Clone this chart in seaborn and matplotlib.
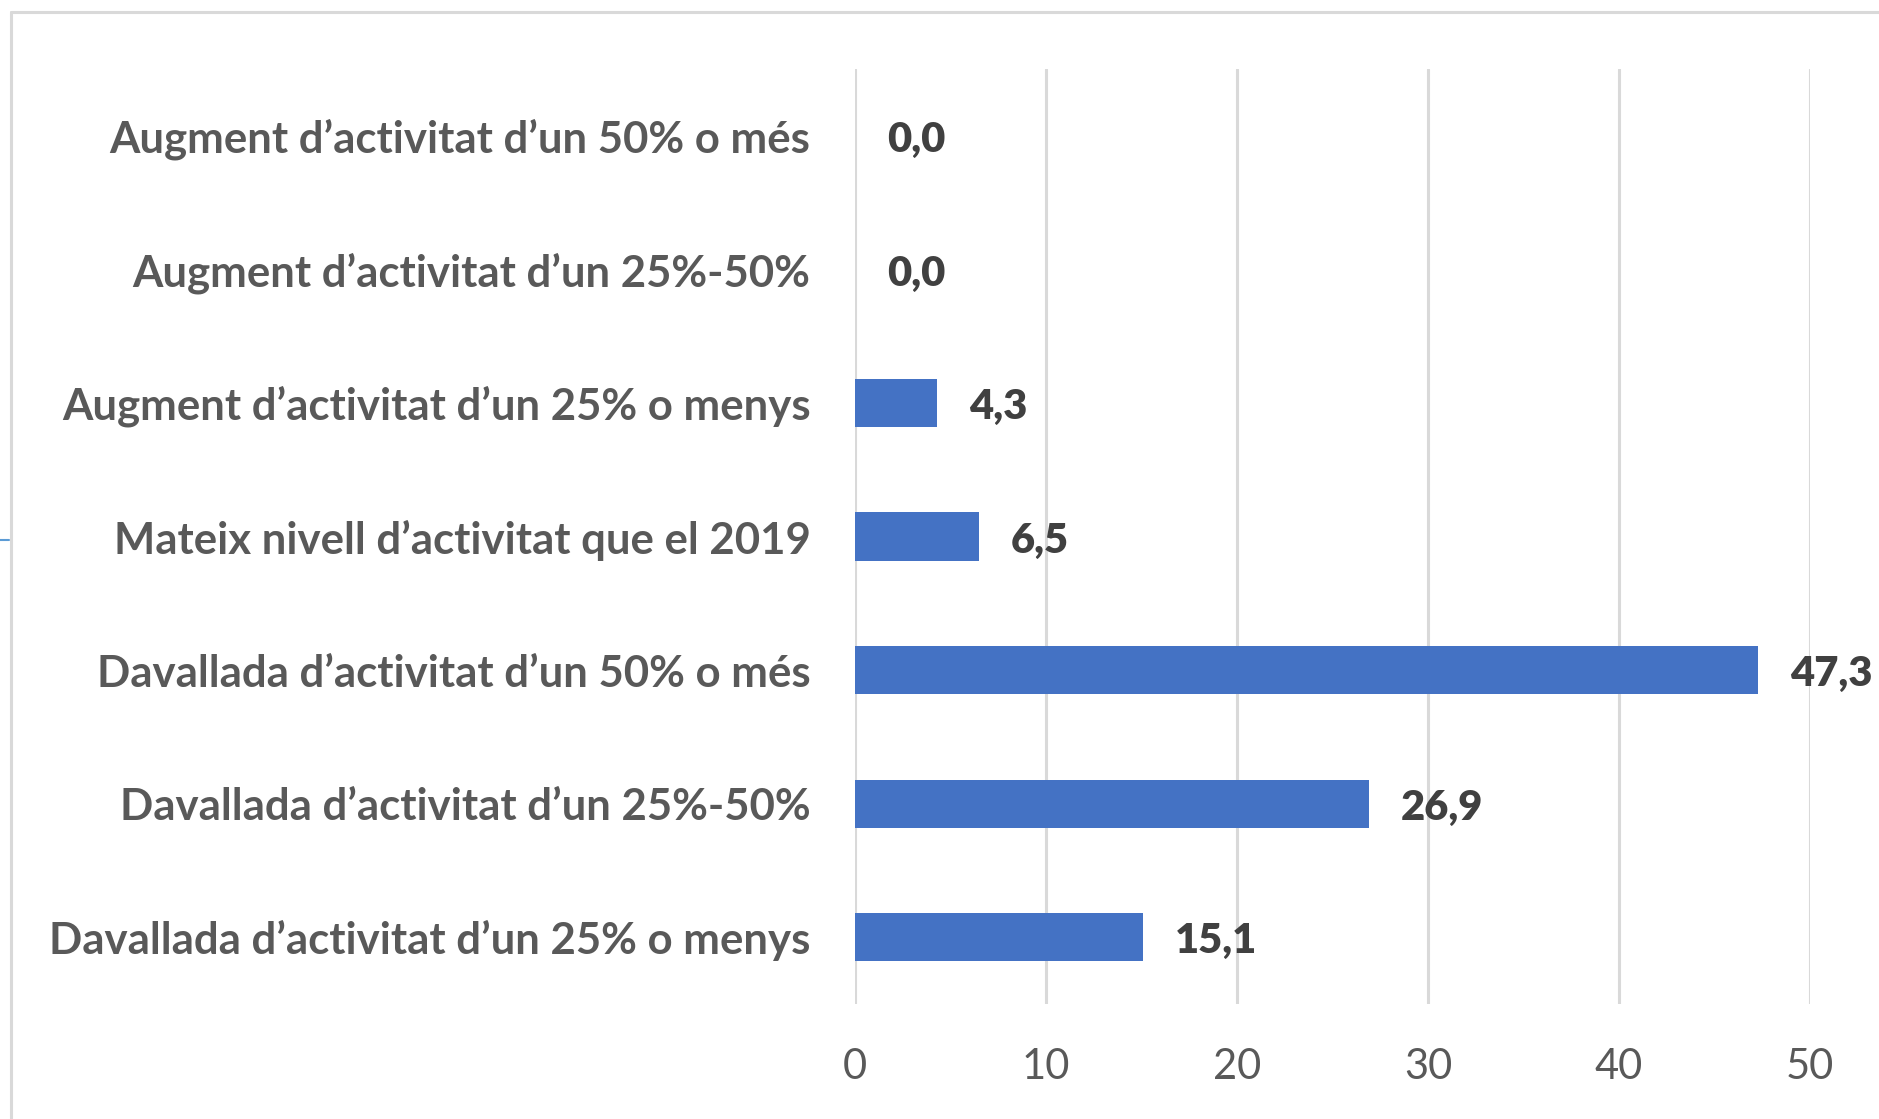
import matplotlib
matplotlib.use("Agg")
import matplotlib.pyplot as plt
import seaborn as sns
import pandas as pd
from matplotlib.lines import Line2D

# ==========================================
# DATA
# ==========================================

categories = [
    "Augment d\u2019activitat d\u2019un 50% o més",
    "Augment d\u2019activitat d\u2019un 25%-50%",
    "Augment d\u2019activitat d\u2019un 25% o menys",
    "Mateix nivell d\u2019activitat que el 2019",
    "Davallada d\u2019activitat d\u2019un 50% o més",
    "Davallada d\u2019activitat d\u2019un 25%-50%",
    "Davallada d\u2019activitat d\u2019un 25% o menys",
]
values = [0.0, 0.0, 4.3, 6.5, 47.3, 26.9, 15.1]
x_ticks = [0, 10, 20, 30, 40, 50]

df = pd.DataFrame({"categoria": categories, "valor": values})

# ==========================================
# STYLE
# ==========================================

sns.set_style("white")
plt.rcParams["font.family"] = ["Lato", "DejaVu Sans"]

bar_color = "#4472C4"
grid_color = "#D9D9D9"
label_color = "#595959"
value_color = "#404040"

W, H = 1879, 1119
fig = plt.figure(figsize=(W / 100, H / 100), dpi=100)
ax = fig.add_axes([855 / W, 1 - 1004 / H, (1810 - 855) / W, (1004 - 69) / H])

# ==========================================
# BAR CHART
# ==========================================

sns.barplot(
    data=df,
    y="categoria",
    x="valor",
    order=categories,
    color=bar_color,
    width=0.36,
    saturation=1,
    linewidth=0,
    ax=ax,
)

ax.set_xlim(0, 50)
ax.set_ylim(len(categories) - 0.5, -0.5)
ax.set_xticks(x_ticks)
ax.set_xticklabels([str(t) for t in x_ticks], fontsize=30, color=label_color)
ax.set_yticklabels(categories, fontsize=31.5, fontweight="bold", color=label_color)
ax.tick_params(axis="y", length=0, pad=32)
ax.tick_params(axis="x", length=0, pad=32)

ax.set_xlabel("")
ax.set_ylabel("")
for s in ax.spines.values():
    s.set_visible(False)

ax.set_axisbelow(True)
ax.xaxis.grid(True, color=grid_color, linewidth=2.2)
ax.yaxis.grid(False)

# value labels with comma as decimal sign
texts = ax.bar_label(
    ax.containers[0],
    labels=[f"{v:.1f}".replace(".", ",") for v in values],
    padding=23,
    fontsize=30,
    fontweight="heavy",
    color=value_color,
)
# sit the numbers a little lower, like in the original
for t in texts:
    t.xyann = (23, -3)

# outer frame of the original chart area
fig.add_artist(Line2D([11 / W, 1], [1 - 12 / H, 1 - 12 / H], color=grid_color, linewidth=2.2))
fig.add_artist(Line2D([11 / W, 11 / W], [0, 1 - 12 / H], color=grid_color, linewidth=2.2))
fig.add_artist(Line2D([0, 9 / W], [1 - 540 / H, 1 - 540 / H], color="#5B9BD5", linewidth=1.5))

plt.savefig("out.png", dpi=100)
